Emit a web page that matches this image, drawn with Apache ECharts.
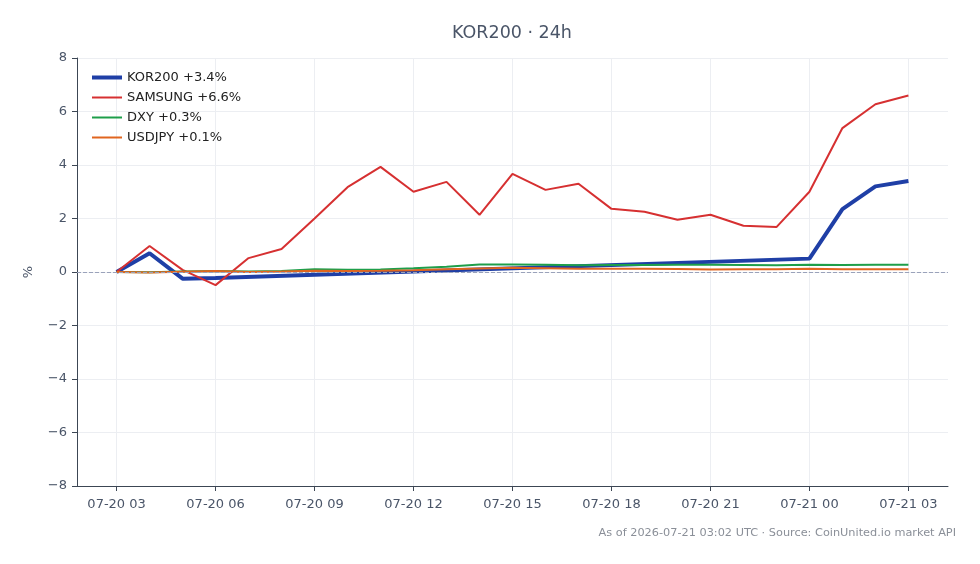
<!DOCTYPE html>
<html>
<head>
<meta charset="utf-8">
<title>KOR200 · 24h</title>
<script src="https://cdn.jsdelivr.net/npm/echarts@6/dist/echarts.min.js"></script>
<style>
  html, body { margin: 0; padding: 0; background: #fff; }
  #charts { width: 980px; height: 564px; }
</style>
</head>
<body>
<div id="charts"></div>
<script>
// hours since 07-20 03 UTC
var hours = [0,1,2,3,4,5,6,7,8,9,10,11,12,13,14,15,16,17,18,19,20,21,22,23,24];

var tickHours = [0, 3, 6, 9, 12, 15, 18, 21, 24];
var tickLabels = ['07-20 03','07-20 06','07-20 09','07-20 12','07-20 15','07-20 18','07-20 21','07-21 00','07-21 03'];

// KOR200 has no prints outside the session, gap is bridged
var kor200 = [0, 0.7, -0.25, -0.22, null, null, null, null, null, null, null, null, null, null, null, null, null, null, null, null, null, 0.5, 2.35, 3.2, 3.4];
var samsung = [0, 0.97, 0.08, -0.49, 0.52, 0.86, 2.0, 3.17, 3.93, 3.0, 3.37, 2.14, 3.67, 3.07, 3.3, 2.36, 2.25, 1.95, 2.14, 1.73, 1.68, 3.0, 5.38, 6.27, 6.6];
var dxy = [0, -0.01, 0.02, 0.04, 0.02, 0.04, 0.1, 0.08, 0.09, 0.14, 0.2, 0.28, 0.28, 0.27, 0.25, 0.26, 0.26, 0.27, 0.27, 0.26, 0.25, 0.27, 0.26, 0.27, 0.27];
var usdjpy = [0, -0.02, 0.01, 0.04, 0.0, 0.02, 0.05, 0.04, 0.05, 0.07, 0.1, 0.13, 0.16, 0.14, 0.12, 0.12, 0.12, 0.11, 0.09, 0.1, 0.1, 0.12, 0.1, 0.1, 0.1];

var names = ['KOR200 +3.4%', 'SAMSUNG +6.6%', 'DXY +0.3%', 'USDJPY +0.1%'];
var colors = ['#1f3fa6', '#d63031', '#1e9e4a', '#e0651f'];
var widths = [4, 2, 2, 2];

function pairs(arr) {
  return hours.map(function (h, i) { return [h, arr[i]]; });
}

var font = 'DejaVu Sans';

var option = {
  backgroundColor: '#fff',
  animation: false,
  title: {
    text: 'KOR200 · 24h',
    left: 507, top: 19, textAlign: 'center',
    textStyle: { fontFamily: font, fontSize: 17.5, fontWeight: 'normal', color: '#4a5568' }
  },
  grid: { left: 77, right: 32, top: 58, bottom: 78 },
  legend: {
    orient: 'vertical', left: 85, top: 66,
    itemWidth: 30, itemHeight: 14, itemGap: 7,
    itemStyle: { opacity: 0 },
    textStyle: { fontFamily: font, fontSize: 13, color: '#222' },
    data: names.map(function (n, i) {
      return { name: n, lineStyle: { width: widths[i] } };
    })
  },
  xAxis: {
    type: 'value', min: -1.2, max: 25.2,
    axisLine: { onZero: false, lineStyle: { color: '#3c4654', width: 1 } },
    axisTick: { show: true, customValues: tickHours, length: 5, lineStyle: { color: '#3c4654' } },
    axisLabel: {
      customValues: tickHours, margin: 12,
      fontFamily: font, fontSize: 13, color: '#4a5568',
      formatter: function (v) { return tickLabels[tickHours.indexOf(Math.round(v))] || ''; }
    },
    splitLine: { show: true, lineStyle: { color: '#eceef2' } }
  },
  yAxis: {
    type: 'value', min: -8, max: 8, interval: 2,
    name: '%', nameLocation: 'middle', nameGap: 42, nameRotate: 90,
    nameTextStyle: { fontFamily: font, fontSize: 13, color: '#4a5568' },
    axisLine: { show: true, onZero: false, lineStyle: { color: '#3c4654', width: 1 } },
    axisTick: { show: true, length: 5, lineStyle: { color: '#3c4654' } },
    axisLabel: {
      fontFamily: font, fontSize: 13, color: '#4a5568', margin: 10,
      formatter: function (v) { return String(v).replace('-', '\u2212'); }
    },
    splitLine: { show: true, lineStyle: { color: '#eceef2' } }
  },
  series: [
    {
      name: names[0], type: 'line', data: pairs(kor200), connectNulls: true,
      showSymbol: false, symbol: 'none', color: colors[0],
      lineStyle: { width: widths[0], color: colors[0] },
      markLine: {
        silent: true, symbol: 'none', label: { show: false },
        lineStyle: { color: '#9aa2ba', type: 'dashed', width: 1 },
        data: [{ yAxis: 0 }]
      }
    },
    {
      name: names[1], type: 'line', data: pairs(samsung),
      showSymbol: false, symbol: 'none', color: colors[1],
      lineStyle: { width: widths[1], color: colors[1] }
    },
    {
      name: names[2], type: 'line', data: pairs(dxy),
      showSymbol: false, symbol: 'none', color: colors[2],
      lineStyle: { width: widths[2], color: colors[2] }
    },
    {
      name: names[3], type: 'line', data: pairs(usdjpy),
      showSymbol: false, symbol: 'none', color: colors[3],
      lineStyle: { width: widths[3], color: colors[3] }
    }
  ],
  graphic: [{
    type: 'text', right: 24, top: 528,
    style: {
      text: 'As of 2026-07-21 03:02 UTC · Source: CoinUnited.io market API',
      font: '11.3px "DejaVu Sans"', fill: '#8a8f98'
    }
  }]
};

var myChart = echarts.init(document.getElementById('charts'));
myChart.setOption(option);
window.addEventListener('resize', function () {
  myChart.resize();
});
</script>
</body>
</html>
